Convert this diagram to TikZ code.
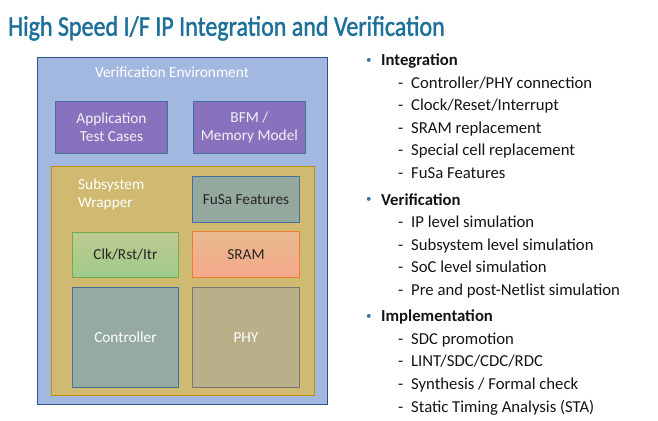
\documentclass[tikz,border=0pt]{standalone}
\usepackage{fontspec}
\setmainfont{Carlito}
\newfontfamily\titlefont[FakeBold=1.6]{Carlito}
\usetikzlibrary{positioning}
\definecolor{titleblue}{RGB}{28,112,154}
\definecolor{bulletblue}{RGB}{46,117,182}
\definecolor{bodytext}{RGB}{20,20,20}
\definecolor{darktext}{RGB}{38,38,38}
\definecolor{envfill}{RGB}{162,184,224}
\definecolor{envline}{RGB}{47,82,143}
\definecolor{tbfill}{RGB}{136,114,190}
\definecolor{blueline}{RGB}{65,113,156}
\definecolor{wrapfill}{RGB}{208,185,112}
\definecolor{wrapline}{RGB}{191,144,0}
\definecolor{fusafill}{RGB}{149,168,157}
\definecolor{ctrlfill}{RGB}{149,170,161}
\definecolor{phyfill}{RGB}{185,176,138}
\definecolor{phyline}{RGB}{120,120,112}
\definecolor{clktop}{RGB}{192,201,146}
\definecolor{clkbot}{RGB}{158,204,138}
\definecolor{clkline}{RGB}{112,173,71}
\definecolor{sramtop}{RGB}{232,186,142}
\definecolor{srambot}{RGB}{246,168,138}
\definecolor{sramline}{RGB}{237,125,49}
\newcommand{\boxfont}{\fontsize{15.3}{18.5}\selectfont}
\newcommand{\listfont}{\fontsize{16.7}{20}\selectfont}
\newcommand{\blt}{\makebox[15pt][l]{\textcolor{bulletblue}{\normalfont\fontsize{11}{11}\selectfont\raisebox{2.6pt}{\textbullet}}}}
\tikzstyle{envbox} = [rectangle, draw=envline, line width=1.2pt, fill=envfill, anchor=north west]
\tikzstyle{wrapbox} = [rectangle, draw=wrapline, line width=1pt, fill=wrapfill, anchor=north west]
\tikzstyle{block} = [rectangle, line width=0.9pt, align=center, font=\boxfont, anchor=north west, inner sep=0pt]
\tikzstyle{tcbox} = [block, draw=blueline, fill=tbfill, text=white!95!black, minimum width=112pt, minimum height=52pt]
\tikzstyle{heading} = [anchor=base west, inner sep=0pt, font=\listfont\bfseries, text=bodytext]
\tikzstyle{item} = [anchor=base west, inner sep=0pt, font=\listfont, text=bodytext]

\begin{document}
\begin{tikzpicture}[x=1pt, y=-1pt, node distance=25pt]
	\useasboundingbox (0,0) rectangle (658,420);
	% title
	\node (title) [anchor=base west, inner sep=0pt, text=titleblue, font=\titlefont\fontsize{24}{28}\selectfont] at (8,35.7) {\scalebox{1}[1.18]{High Speed I/F IP Integration and Verification}};
	% left picture
	\node (env) [envbox, minimum width=290pt, minimum height=347pt] at (37,57) {};
	\node (envlabel) [font=\boxfont, text=white, inner sep=0pt] at (172,72) {Verification Environment};
	\node (app) [tcbox] at (55,101) {Application\\Test Cases};
	\node (bfm) [tcbox, right=25pt of app.north east, anchor=north west] {BFM /\\Memory Model};
	\node (wrap) [wrapbox, minimum width=263pt, minimum height=229pt] at (51,166) {};
	\node (wraplabel) [font=\boxfont, text=white, align=left, anchor=north west, inner sep=0pt] at (78,178.5) {Subsystem\\Wrapper};
	\node (fusa) [block, draw=blueline, fill=fusafill, text=darktext, minimum width=107pt, minimum height=46pt] at (192,176) {FuSa Features};
	\node (clk) [block, draw=clkline, top color=clktop, bottom color=clkbot, text=darktext, minimum width=106pt, minimum height=45pt] at (72,232) {Clk/Rst/Itr};
	\node (sram) [block, draw=sramline, top color=sramtop, bottom color=srambot, text=darktext, minimum width=107pt, minimum height=46pt] at (192,231) {SRAM};
	\node (ctrl) [block, draw=blueline, fill=ctrlfill, text=white, minimum width=106pt, minimum height=100pt] at (72,287) {Controller};
	\node (phy) [block, draw=phyline, fill=phyfill, text=white, minimum width=107pt, minimum height=100pt] at (192,287) {PHY};
	% right list
	\node (integ) [heading] at (366,66) {\blt Integration};
	\foreach \txt [count=\i] in {Controller/PHY connection, Clock/Reset/Interrupt, SRAM replacement, Special cell replacement, FuSa Features}
		\node (integ\i) [item] at (398,66+22.4*\i) {\makebox[13pt][l]{-}\txt};
	\node (verif) [heading] at (366,205) {\blt Verification};
	\foreach \txt [count=\i] in {IP level simulation, Subsystem level simulation, SoC level simulation, Pre and post-Netlist simulation}
		\node (verif\i) [item] at (398,205+22.5*\i) {\makebox[13pt][l]{-}\txt};
	\node (impl) [heading] at (366,321.7) {\blt Implementation};
	\foreach \txt [count=\i] in {SDC promotion, LINT/SDC/CDC/RDC, Synthesis / Formal check, Static Timing Analysis (STA)}
		\node (impl\i) [item] at (398,321.7+22.6*\i) {\makebox[13pt][l]{-}\txt};
\end{tikzpicture}
\end{document}
